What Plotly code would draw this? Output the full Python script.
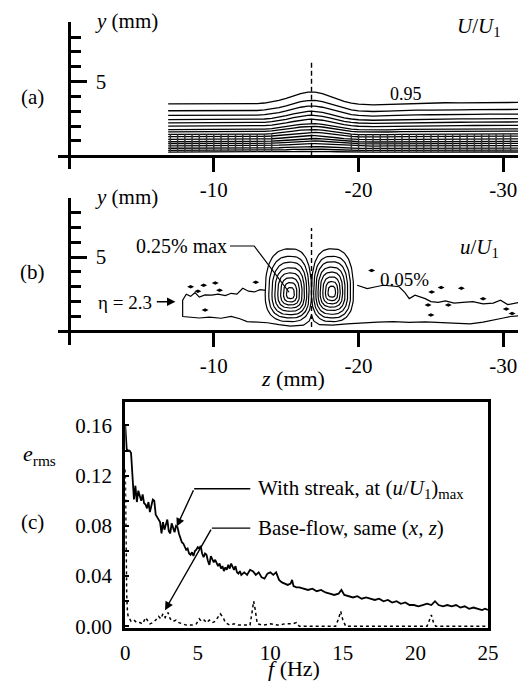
import numpy as np
import plotly.graph_objects as go

W, H = 529, 693
FONT = "Liberation Serif"

# ---------------- panel (a): U/U1 contours ----------------
a_z = [-6.85, -8, -9, -10, -11, -12, -13, -13.5, -14, -14.5, -15, -15.5, -16, -16.5,
       -16.75, -17, -17.5, -18, -18.5, -19, -19.5, -20, -21, -22, -23, -24, -25,
       -26, -27, -28, -29, -30, -31.1]
a_top = [3.50, 3.50, 3.49, 3.50, 3.50, 3.50, 3.52, 3.56, 3.63, 3.74, 3.88, 4.05, 4.20,
         4.29, 4.32, 4.30, 4.20, 4.03, 3.84, 3.67, 3.56, 3.49, 3.44, 3.47, 3.52, 3.54,
         3.55, 3.58, 3.57, 3.58, 3.60, 3.60, 3.60]
a_level_heights = [3.50, 3.04, 2.73, 2.44, 2.22, 2.00, 1.77, 1.62, 1.44, 1.29, 1.11,
                   0.95, 0.82, 0.67, 0.51, 0.37, 0.25]
a_probe_z = [-7.0, -7.5, -8.0, -8.5, -9.0, -9.5, -10.0, -10.5, -11.0, -11.5, -12.0,
             -12.5, -13.0, -13.5, -14.0, -19.5, -20.0, -20.5, -21.0, -21.5, -22.0,
             -22.5, -23.0, -23.5, -24.0, -24.5, -25.0, -25.5, -26.0, -26.5, -27.0,
             -27.5, -28.0, -28.5, -29.0, -29.5, -30.0, -30.5]
a_probe_y = [0.25, 1.45]
streak_z = -16.75

# ---------------- panel (b): u/U1 contours ----------------
# nested lobe rings: extents (mm) to screen-left, screen-right, top, bottom
lobeL_c = (-15.3, 2.5)
lobeL_el = [1.75, 1.50, 1.28, 1.08, 0.88, 0.68, 0.48, 0.28]
lobeL_er = [1.45, 1.28, 1.12, 0.96, 0.80, 0.62, 0.44, 0.26]
lobeL_top = [3.05, 2.55, 2.15, 1.78, 1.43, 1.10, 0.78, 0.45]
lobeL_bot = [1.85, 1.60, 1.38, 1.15, 0.93, 0.72, 0.52, 0.30]
lobeR_c = (-18.15, 2.6)
lobeR_el = [1.40, 1.25, 1.10, 0.95, 0.80, 0.62, 0.44, 0.26]
lobeR_er = [1.50, 1.30, 1.10, 0.92, 0.75, 0.58, 0.42, 0.26]
lobeR_top = [2.95, 2.45, 2.08, 1.72, 1.38, 1.06, 0.75, 0.44]
lobeR_bot = [1.95, 1.70, 1.45, 1.20, 0.97, 0.75, 0.53, 0.30]

band_top_left_z = [-7.85, -8.1, -8.4, -8.7, -9.0, -9.4, -9.85, -10.3, -10.8, -11.2,
                   -11.6, -12.0, -12.4, -12.8, -13.2, -13.6]
band_top_left_y = [2.1, 2.5, 2.35, 2.6, 2.3, 2.45, 2.43, 2.5, 2.4, 2.56, 2.5, 2.9,
                   2.7, 2.65, 2.8, 2.75]
band_bot_z = [-7.85, -8.3, -9.0, -9.7, -10.5, -11.2, -11.8, -12.3, -13.0, -13.7,
              -14.5, -15.3, -16.2, -16.6, -16.75, -16.9, -17.3, -18.2, -19.2, -20.2,
              -21.3, -22.4, -23.5, -24.6, -25.7, -26.8, -27.7, -28.6, -29.5, -30.0,
              -30.5, -31.1]
band_bot_y = [1.0, 0.95, 0.9, 0.95, 0.88, 1.0, 0.85, 0.66, 0.62, 0.58, 0.45, 0.35,
              0.42, 0.7, 1.1, 0.7, 0.45, 0.42, 0.5, 0.58, 0.62, 0.66, 0.6, 0.64, 0.58,
              0.55, 0.5, 0.62, 0.77, 0.9, 1.0, 1.05]
band_top_right_z = [-19.9, -20.3, -20.6, -21.2, -21.7, -22.3, -22.8, -23.2, -23.5,
                    -23.9, -24.3, -24.6, -25.0, -25.5, -26.0, -26.6, -27.2, -27.9,
                    -28.6, -29.3, -29.8, -30.3, -31.1]
band_top_right_y = [3.1, 2.95, 2.87, 3.0, 3.1, 3.05, 3.0, 2.6, 2.2, 2.43, 2.3, 2.2,
                    2.0, 1.95, 2.05, 1.9, 1.95, 2.0, 1.85, 1.9, 2.1, 1.8, 1.95]
blob_z = [-8.4, -8.9, -9.3, -10.1, -10.4, -12.9, -9.4, -20.9, -25.05, -25.7, -27.1,
          -28.6, -24.8, -26.2, -25.0, -30.2, -30.6]
blob_y = [3.0, 2.7, 3.1, 3.25, 2.76, 3.3, 1.44, 4.1, 2.65, 2.95, 2.9, 2.2, 1.77,
          1.77, 1.1, 1.5, 1.2]

# ---------------- panel (c): spectra ----------------
c_f_streak = [0.00, 0.05, 0.10, 0.20, 0.30, 0.40, 0.50, 0.60, 0.70, 0.80, 0.90, 1.00,
              1.10, 1.20, 1.30, 1.40, 1.50, 1.60, 1.70, 1.80, 1.90, 2.00, 2.10, 2.20,
              2.30, 2.40, 2.50, 2.60, 2.70, 2.80, 2.90, 3.00, 3.10, 3.20, 3.30, 3.40,
              3.50, 3.60, 3.70, 3.80, 3.90, 4.00, 4.10, 4.20, 4.30, 4.40, 4.50, 4.60,
              4.70, 4.80, 4.90, 5.00, 5.10, 5.20, 5.30, 5.40, 5.50, 5.60, 5.70, 5.80,
              5.90, 6.00, 6.10, 6.20, 6.30, 6.40, 6.50, 6.60, 6.70, 6.80, 6.90, 7.00,
              7.10, 7.20, 7.30, 7.40, 7.50, 7.60, 7.70, 7.80, 7.90, 8.00, 8.20, 8.40,
              8.60, 8.80, 9.00, 9.20, 9.40, 9.60, 9.80, 10.0, 10.2, 10.4, 10.6, 10.8,
              11.0, 11.2, 11.4, 11.5, 11.6, 11.8, 12.0, 12.3, 12.6, 12.9, 13.2, 13.5,
              13.8, 14.1, 14.4, 14.7, 14.9, 15.1, 15.4, 15.7, 16.0, 16.3, 16.6, 16.9,
              17.2, 17.5, 17.8, 18.1, 18.4, 18.7, 19.0, 19.3, 19.6, 19.9, 20.2, 20.5,
              20.8, 21.1, 21.35, 21.6, 21.9, 22.2, 22.5, 22.8, 23.1, 23.4, 23.7, 24.0,
              24.3, 24.6, 24.8, 25.0]
c_streak = [0.160, 0.150, 0.141, 0.140, 0.140, 0.138, 0.120, 0.101, 0.112, 0.099,
            0.108, 0.104, 0.100, 0.105, 0.098, 0.097, 0.094, 0.099, 0.091, 0.096,
            0.101, 0.100, 0.089, 0.087, 0.085, 0.083, 0.074, 0.083, 0.077, 0.082,
            0.085, 0.076, 0.074, 0.082, 0.079, 0.075, 0.080, 0.079, 0.074, 0.070,
            0.067, 0.066, 0.063, 0.061, 0.062, 0.058, 0.057, 0.059, 0.056, 0.060,
            0.061, 0.063, 0.062, 0.064, 0.058, 0.055, 0.058, 0.057, 0.052, 0.049,
            0.056, 0.054, 0.051, 0.053, 0.050, 0.048, 0.050, 0.046, 0.048, 0.044,
            0.047, 0.045, 0.049, 0.046, 0.050, 0.047, 0.045, 0.048, 0.043, 0.042,
            0.044, 0.041, 0.043, 0.041, 0.045, 0.044, 0.041, 0.043, 0.039, 0.038,
            0.042, 0.043, 0.041, 0.043, 0.037, 0.035, 0.034, 0.033, 0.034, 0.037,
            0.032, 0.031, 0.031, 0.030, 0.029, 0.030, 0.028, 0.029, 0.027, 0.026,
            0.025, 0.026, 0.029, 0.025, 0.024, 0.023, 0.024, 0.022, 0.023, 0.022,
            0.021, 0.022, 0.020, 0.021, 0.019, 0.020, 0.018, 0.019, 0.017, 0.017,
            0.016, 0.017, 0.018, 0.017, 0.020, 0.017, 0.016, 0.017, 0.016, 0.017,
            0.015, 0.016, 0.014, 0.015, 0.014, 0.013, 0.014, 0.013]
c_f_base = [0.00, 0.05, 0.10, 0.15, 0.20, 0.30, 0.40, 0.60, 0.80, 1.00, 1.20, 1.40,
            1.55, 1.70, 1.90, 2.10, 2.30, 2.45, 2.60, 2.75, 2.95, 3.10, 3.30, 3.50,
            3.70, 3.90, 4.20, 4.60, 4.90, 5.10, 5.25, 5.45, 5.60, 5.80, 6.00, 6.20,
            6.40, 6.55, 6.75, 6.90, 7.20, 7.50, 7.80, 8.20, 8.60, 8.75, 8.85, 8.95,
            9.10, 9.50, 10.0, 10.5, 11.0, 11.5, 11.8, 12.0, 14.5, 14.7, 14.85, 15.0,
            15.2, 20.8, 20.95, 21.1, 21.25, 21.4, 25.0]
c_base = [0.125, 0.060, 0.025, 0.012, 0.008, 0.006, 0.004, 0.005, 0.003, 0.003,
          0.002, 0.007, 0.004, 0.002, 0.003, 0.005, 0.008, 0.006, 0.010, 0.007,
          0.011, 0.006, 0.004, 0.005, 0.003, 0.002, 0.001, 0.001, 0.002, 0.006,
          0.004, 0.005, 0.003, 0.005, 0.003, 0.004, 0.007, 0.010, 0.007, 0.003,
          0.001, 0.002, 0.001, 0.001, 0.001, 0.012, 0.020, 0.014, 0.002, 0.001,
          0.002, 0.001, 0.002, 0.002, 0.003, 0.000, 0.000, 0.006, 0.012, 0.005,
          0.000, 0.000, 0.005, 0.009, 0.003, 0.000, 0.000]
c_xticks = [0, 5, 10, 15, 20, 25]
c_yticks = [0.00, 0.04, 0.08, 0.12, 0.16]


def px(x):
    return x / W


def py(y):
    return 1 - y / H


def ring(c, el, er, top, bot, n=2.6, npts=90):
    t = np.linspace(0, 2 * np.pi, npts)
    co, si = np.cos(t), np.sin(t)
    fx = np.sign(co) * np.abs(co) ** (2 / n)
    fy = np.sign(si) * np.abs(si) ** (2 / n)
    z = c[0] + np.where(fx > 0, fx * el, fx * er)
    y = c[1] + np.where(fy > 0, fy * top, fy * bot)
    return z, y


fig = go.Figure()
LINE = dict(color="black", width=1.2)

# (a)
top_arr = np.array(a_top)
for h in a_level_heights:
    fig.add_trace(go.Scatter(x=a_z, y=top_arr * h / a_level_heights[0], mode="lines",
                             line=dict(color="black", width=1.3), xaxis="x", yaxis="y",
                             hoverinfo="skip", showlegend=False))
pz, pyy = [], []
for z in a_probe_z:
    pz += [z, z, None]
    pyy += [a_probe_y[0], a_probe_y[1], None]
fig.add_trace(go.Scatter(x=pz, y=pyy, mode="lines", line=dict(color="#333", width=1.5),
                         xaxis="x", yaxis="y", hoverinfo="skip", showlegend=False))
fig.add_trace(go.Scatter(x=[streak_z, streak_z], y=[0, 6.33], mode="lines",
                         line=dict(color="black", width=1.4, dash="5px,3px"),
                         xaxis="x", yaxis="y", showlegend=False))

# (b)
for c, EL, ER, TP, BT in [(lobeL_c, lobeL_el, lobeL_er, lobeL_top, lobeL_bot),
                          (lobeR_c, lobeR_el, lobeR_er, lobeR_top, lobeR_bot)]:
    for k in range(len(EL)):
        zz, yy = ring(c, EL[k], ER[k], TP[k], BT[k])
        fig.add_trace(go.Scatter(x=zz, y=yy, mode="lines", line=LINE, xaxis="x2",
                                 yaxis="y2", hoverinfo="skip", showlegend=False))
fig.add_trace(go.Scatter(x=band_top_left_z[::-1] + band_bot_z,
                         y=band_top_left_y[::-1] + band_bot_y, mode="lines", line=LINE,
                         xaxis="x2", yaxis="y2", showlegend=False))
fig.add_trace(go.Scatter(x=band_top_right_z, y=band_top_right_y, mode="lines", line=LINE,
                         xaxis="x2", yaxis="y2", showlegend=False))
fig.add_trace(go.Scatter(x=blob_z, y=blob_y, mode="markers",
                         marker=dict(symbol="diamond-wide", size=5, color="black"),
                         xaxis="x2", yaxis="y2", showlegend=False))
fig.add_trace(go.Scatter(x=[streak_z, streak_z], y=[0.3, 6.95], mode="lines",
                         line=dict(color="black", width=1.4, dash="5px,3px"),
                         xaxis="x2", yaxis="y2", showlegend=False))
# leader for "0.25% max"
fig.add_trace(go.Scatter(x=[-11.12, -12.79, -15.2], y=[5.74, 5.74, 2.63], mode="lines",
                         line=dict(color="black", width=1.2), xaxis="x2", yaxis="y2",
                         showlegend=False))

# (c)
fig.add_trace(go.Scatter(x=c_f_streak, y=c_streak, mode="lines",
                         line=dict(color="black", width=1.8), xaxis="x3", yaxis="y3",
                         showlegend=False))
fig.add_trace(go.Scatter(x=c_f_base, y=c_base, mode="lines",
                         line=dict(color="black", width=1.5, dash="dot"),
                         xaxis="x3", yaxis="y3", showlegend=False))
fig.add_trace(go.Scatter(x=[8.62, 4.75], y=[0.1096, 0.1096], mode="lines",
                         line=dict(color="black", width=1.3), xaxis="x3", yaxis="y3",
                         showlegend=False))
fig.add_trace(go.Scatter(x=[8.62, 5.97], y=[0.0782, 0.0782], mode="lines",
                         line=dict(color="black", width=1.3), xaxis="x3", yaxis="y3",
                         showlegend=False))

tf = dict(family=FONT, size=21, color="black")
zx_range = [(66 - 55) / 14.93, -(W - 66) / 14.93]


def zaxis(base_px):
    return dict(domain=[px(55), 1], range=zx_range, anchor="free",
                position=py(base_px), showline=True, linewidth=3, linecolor="black",
                ticks="outside", ticklen=14, tickwidth=3, tickcolor="black",
                tickvals=[-10, -20, -30], ticktext=["-10", "-20", "-30"],
                showgrid=False, zeroline=False, tickfont=tf)


def yaxis_mm(top_px, bot_px):
    return dict(domain=[py(bot_px), py(top_px)], range=[-0.9, 9], anchor="free",
                position=px(66), showline=True, linewidth=3, linecolor="black",
                ticks="inside", ticklen=16, tickwidth=3, tickcolor="black",
                tickvals=[5], ticktext=["5"], ticklabelposition="inside",
                ticklabelstandoff=10,
                minor=dict(tickvals=[1, 2, 3, 4, 6, 7, 8, 9], ticks="inside",
                           ticklen=10, tickwidth=3, tickcolor="black"),
                showgrid=False, zeroline=False, tickfont=tf)


fig.update_layout(
    width=W, height=H, margin=dict(l=0, r=0, t=0, b=0),
    paper_bgcolor="white", plot_bgcolor="rgba(0,0,0,0)",
    font=dict(family=FONT, size=21, color="black"),
    xaxis=zaxis(158.3),
    yaxis=yaxis_mm(22.7, 171.9),
    xaxis2=zaxis(336.7),
    yaxis2=yaxis_mm(200.7, 350.3),
    xaxis3=dict(domain=[px(124), px(498)], range=[0, 25], anchor="y3", showline=True,
                mirror=True, linewidth=3, linecolor="black", ticks="",
                tickvals=c_xticks, ticktext=[str(v) for v in c_xticks],
                showgrid=False, zeroline=False, tickfont=tf, ticklabelstandoff=4),
    yaxis3=dict(domain=[py(638), py(408.3)], range=[-0.0012, 0.1788], anchor="x3",
                showline=True, mirror=True, linewidth=3, linecolor="black",
                ticks="inside", ticklen=4, tickwidth=1.5, tickcolor="black",
                tickvals=c_yticks, ticktext=["%.2f" % v for v in c_yticks],
                minor=dict(tickvals=[0.02, 0.06, 0.10, 0.14], ticks="inside",
                           ticklen=4, tickwidth=1.5, tickcolor="black"),
                showgrid=False, zeroline=False, tickfont=tf, ticklabelstandoff=6),
)


def ann(text, x, y, xanchor="center", size=21, yanchor="middle"):
    fig.add_annotation(text=text, x=px(x), y=py(y), xref="paper", yref="paper",
                       xanchor=xanchor, yanchor=yanchor, showarrow=False,
                       font=dict(family=FONT, size=size, color="black"))


ann("(a)", 28, 99)
ann("<i>y</i> (mm)", 91, 21, xanchor="left")
ann("<i>U</i>/<i>U</i><sub>1</sub>", 514, 27, xanchor="right")
ann("0.95", 413, 96, size=18)
ann("(b)", 28, 276)
ann("<i>y</i> (mm)", 91, 200, xanchor="left")
ann("<i>u</i>/<i>U</i><sub>1</sub>", 511, 252, xanchor="right")
ann("0.25% max", 231, 250, xanchor="right", size=20)
ann("0.05%", 412, 284, size=19)
ann("\u03b7 = 2.3", 94, 307, xanchor="left", size=19)
ann("<i>z</i> (mm)", 297, 385, size=22)
ann("<i>e</i><sub>rms</sub>", 17, 462, xanchor="left", size=22)
ann("(c)", 28, 530)
ann("With streak, at (<i>u</i>/<i>U</i><sub>1</sub>)<sub>max</sub>", 259, 497,
    xanchor="left")
ann("Base-flow, same (<i>x, z</i>)", 259, 537, xanchor="left")
ann("<i>f</i> (Hz)", 298, 694, size=22, yanchor="bottom")

# arrows
fig.add_annotation(x=-7.35, y=1.99, ax=-5.96, ay=1.99, xref="x2", yref="y2",
                   axref="x2", ayref="y2", text="", showarrow=True, arrowhead=2,
                   arrowsize=1.2, arrowwidth=1.4, arrowcolor="black")
fig.add_annotation(x=3.55, y=0.0795, ax=4.75, ay=0.1096, xref="x3", yref="y3",
                   axref="x3", ayref="y3", text="", showarrow=True, arrowhead=2,
                   arrowsize=1.2, arrowwidth=1.4, arrowcolor="black")
fig.add_annotation(x=2.74, y=0.0129, ax=5.97, ay=0.0782, xref="x3", yref="y3",
                   axref="x3", ayref="y3", text="", showarrow=True, arrowhead=2,
                   arrowsize=1.2, arrowwidth=1.4, arrowcolor="black")

fig.write_html("out.html")
